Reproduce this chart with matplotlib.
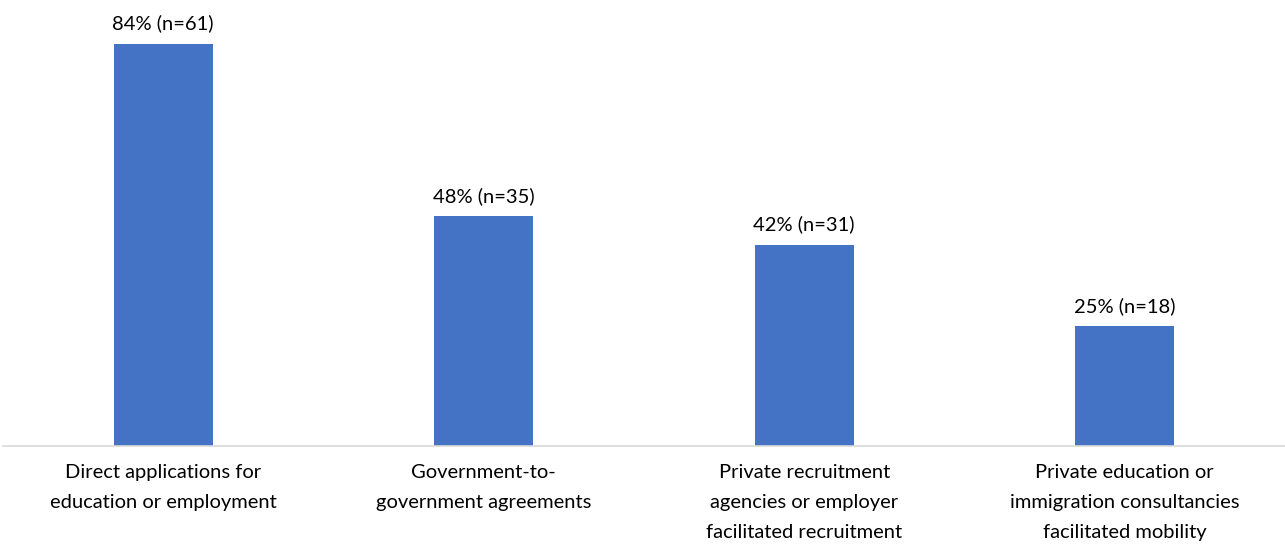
import matplotlib
matplotlib.use("Agg")
import matplotlib.pyplot as plt

categories = ["Direct applications for\neducation or employment",
              "Government-to-\ngovernment agreements",
              "Private recruitment\nagencies or employer\nfacilitated recruitment",
              "Private education or\nimmigration consultancies\nfacilitated mobility"]
percents = [84, 48, 42, 25]
counts = [61, 35, 31, 18]

plt.rcParams['font.family'] = ['Lato', 'DejaVu Sans']

fig = plt.figure(figsize=(12.85, 5.49), dpi=100)
ax = fig.add_axes([0.0023, 1 - 446/549, 0.9977, 446/549])
x = range(len(categories))
bars = ax.bar(x, percents, width=0.31, color="#4472C4")
for xi, p, n in zip(x, percents, counts):
    ax.text(xi, p + 2.4, f"{p}% (n={n})", ha="center", va="bottom", fontsize=14.5, color="#000000")
ax.set_xlim(-0.5, 3.5)
ax.set_ylim(0, 93.2)
ax.set_yticks([])
ax.set_xticks(list(x))
ax.set_xticklabels(categories, fontsize=14.5, linespacing=1.92)
ax.tick_params(axis="x", length=0, pad=13)
for s in ["top", "right", "left"]:
    ax.spines[s].set_visible(False)
ax.spines["bottom"].set_color("#D9D9D9")
ax.spines["bottom"].set_linewidth(1.2)
fig.savefig("out.png", dpi=100)
